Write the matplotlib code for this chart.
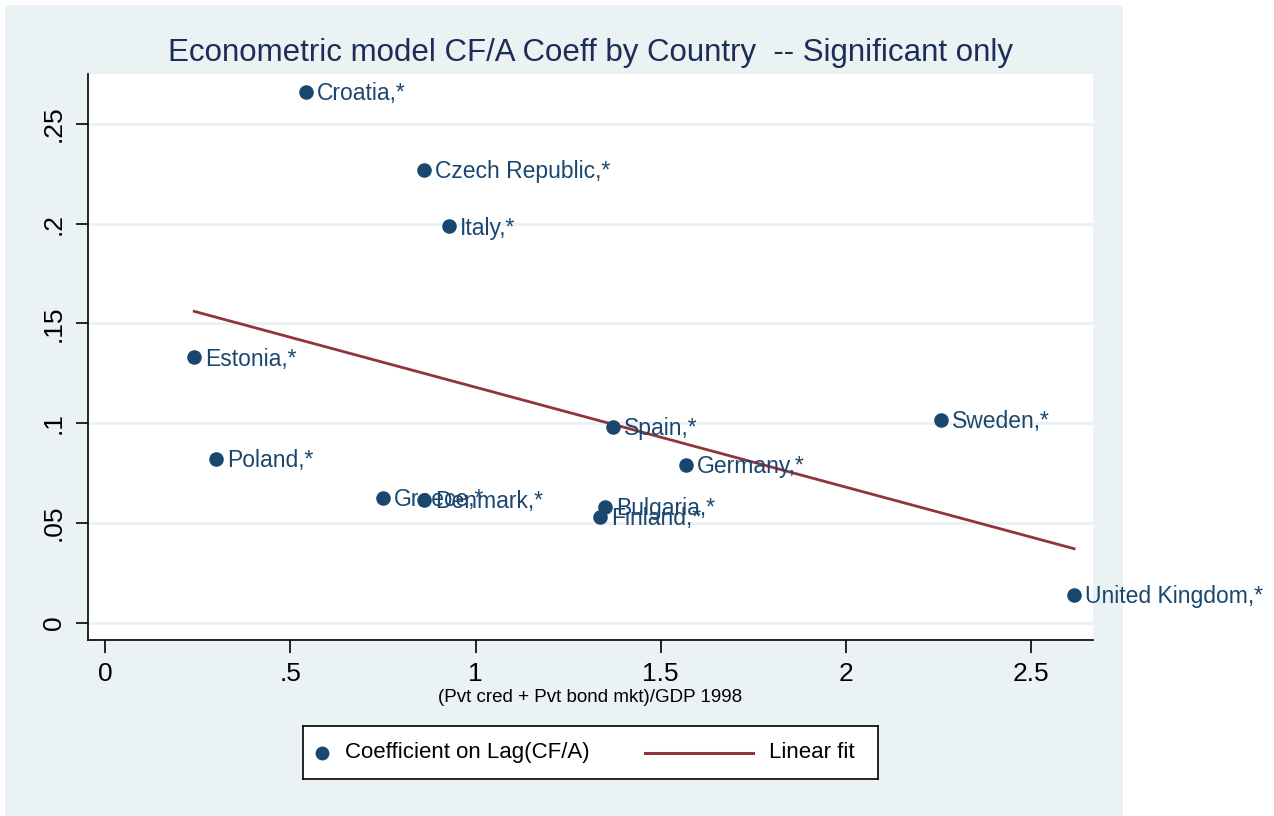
import numpy as np
import matplotlib.pyplot as plt

plt.rcParams['font.family'] = ['Liberation Sans', 'DejaVu Sans']

# country coefficients vs. private credit + bond market / GDP (1998)
countries = ["Croatia", "Czech Republic", "Italy", "Estonia", "Poland", "Greece",
             "Denmark", "Bulgaria", "Finland", "Spain", "Germany", "Sweden",
             "United Kingdom"]
fin_depth = [0.542, 0.861, 0.928, 0.240, 0.299, 0.750,
             0.861, 1.350, 1.336, 1.371, 1.569, 2.257, 2.617]
coef = [0.266, 0.2268, 0.1987, 0.133, 0.0822, 0.0626,
        0.0616, 0.0581, 0.0531, 0.0983, 0.0792, 0.1018, 0.0139]
sig = ["*"] * len(countries)

xticks = [0, 0.5, 1, 1.5, 2, 2.5]
xticklabels = ["0", ".5", "1", "1.5", "2", "2.5"]
yticks = [0, 0.05, 0.1, 0.15, 0.2, 0.25]
yticklabels = ["0", ".05", ".1", ".15", ".2", ".25"]
legend_labels = ["Coefficient on Lag(CF/A)", "Linear fit"]

NAVY = "#1a476f"
MAROON = "#90353b"
BG = "#eaf2f3"

W, H = 1274, 816
fig = plt.figure(figsize=(W / 100, H / 100), dpi=100)
fig.patch.set_facecolor("white")


def px_axes(x0, y0, x1, y1):
    # axes placed by pixel box (top-left origin)
    return fig.add_axes([x0 / W, 1 - y1 / H, (x1 - x0) / W, (y1 - y0) / H])


# graph region background (Stata style)
bg = px_axes(5, 5, 1123, 816)
bg.set_facecolor(BG)
bg.set_xticks([])
bg.set_yticks([])
for s in bg.spines.values():
    s.set_visible(False)
bg.set_zorder(-5)

# plot region in pixels: x 88..1093, y 74..640
ax = px_axes(88, 74, 1093, 640)
ax.set_facecolor("white")
ax.set_xlim(-0.047, 2.668)
ax.set_ylim(-0.0087, 0.2751)

for s in ["top", "right"]:
    ax.spines[s].set_visible(False)
for s in ["left", "bottom"]:
    ax.spines[s].set_linewidth(1.2)
    ax.spines[s].set_color("black")

ax.set_yticks(yticks)
ax.set_yticklabels(yticklabels, rotation=90, va="center", fontsize=19)
ax.set_xticks(xticks)
ax.set_xticklabels(xticklabels, fontsize=19)
ax.tick_params(axis="both", length=9, width=1.2)
ax.tick_params(axis="y", pad=7)
ax.tick_params(axis="x", pad=7)
for y in yticks:
    ax.axhline(y, color=BG, lw=2.2, zorder=1)

x = np.array(fin_depth)
y = np.array(coef)
ax.scatter(x, y, s=110, color=NAVY, zorder=3, clip_on=False, linewidths=0)
for c, xi, yi, st in zip(countries, x, y, sig):
    ax.annotate(f"{c},{st}", (xi, yi), xytext=(8, -1.2), textcoords="offset points",
                va="center", ha="left", fontsize=16.5, color=NAVY,
                annotation_clip=False, zorder=4)

# OLS fit over the observed range
b, a = np.polyfit(x, y, 1)
xs = np.array([x.min(), x.max()])
ax.plot(xs, a + b * xs, color=MAROON, lw=2, zorder=2)

fig.text(590.5 / W, 1 - 53 / H,
         "Econometric model CF/A Coeff by Country  -- Significant only",
         ha="center", va="center", fontsize=22.5, color="#1c2d57")
fig.text(590.5 / W, 1 - 698 / H, "(Pvt cred + Pvt bond mkt)/GDP 1998",
         ha="center", va="center", fontsize=13.5, color="black")

# legend box drawn by hand so the marker key stays narrow
lg = px_axes(303, 726, 878, 779)
lg.set_xlim(303, 878)
lg.set_ylim(779, 726)
lg.set_xticks([])
lg.set_yticks([])
lg.set_facecolor("white")
for s in lg.spines.values():
    s.set_linewidth(1.2)
    s.set_color("black")
lg.plot([321.5], [752.5], "o", color=NAVY, markersize=10, markeredgewidth=0)
lg.text(345, 752.5, legend_labels[0], va="center", ha="left", fontsize=16)
lg.plot([645, 753], [752.5, 752.5], color=MAROON, lw=2.2)
lg.text(769, 752.5, legend_labels[1], va="center", ha="left", fontsize=16)

fig.savefig("out.png", dpi=100, facecolor=fig.get_facecolor())
